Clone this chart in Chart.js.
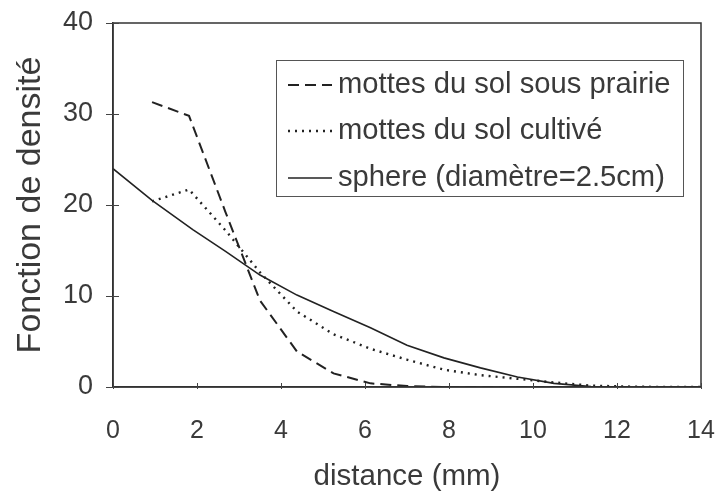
<!DOCTYPE html>
<html>
<head>
<meta charset="utf-8">
<script src="https://cdn.jsdelivr.net/npm/chart.js@4/dist/chart.umd.min.js"></script>
<style>
  html, body { margin: 0; padding: 0; background: #fff; }
  #wrap { width: 715px; height: 495px; }
</style>
</head>
<body>
<div id="wrap"><canvas id="c" width="715" height="495"></canvas></div>
<script>
// ---- data ----
const distMottes = [0.93, 1.81, 2.68, 3.5, 4.38, 5.25, 6.13, 7.0, 7.88, 8.75, 9.63, 10.5, 11.38, 12.25, 13.13, 14.0];
const prairie    = [31.3, 29.8, 19.2, 9.5, 3.9, 1.5, 0.4, 0.1, 0, 0, 0, 0, 0, 0, 0, 0];
const cultive    = [20.4, 21.7, 17.2, 12.6, 8.3, 5.8, 4.2, 3.0, 1.9, 1.3, 0.9, 0.5, 0.15, 0.05, 0, 0];
const distSphere = [0, 0.93, 1.9, 2.68, 3.5, 4.38, 5.25, 6.13, 7.0, 7.88, 8.75, 9.63, 10.5, 11.38, 12.25];
const sphere     = [24.0, 20.5, 17.3, 14.9, 12.3, 10.1, 8.3, 6.5, 4.6, 3.2, 2.1, 1.1, 0.4, 0.05, 0];
const xTicks = [0, 2, 4, 6, 8, 10, 12, 14];
const yTicks = [0, 10, 20, 30, 40];
const seriesLabels = ['mottes du sol sous prairie', 'mottes du sol cultivé', 'sphere (diamètre=2.5cm)'];
const xTitle = 'distance (mm)';
const yTitle = 'Fonction de densité';

const FONT = '"Liberation Sans", Arial, sans-serif';
const TXT = '#3a3a3a';

function pts(xs, ys) { return xs.map((x, i) => ({ x: x, y: ys[i] })); }

const frame = {
  id: 'frame',
  afterDatasetsDraw(chart) {
    const { ctx, chartArea: a, scales } = chart;
    ctx.save();
    ctx.strokeStyle = '#333';
    ctx.lineWidth = 1.5;
    ctx.strokeRect(a.left, a.top, a.right - a.left, a.bottom - a.top);
    // crossing tick marks
    ctx.lineWidth = 1;
    ctx.strokeStyle = '#444';
    yTicks.forEach(v => {
      const y = Math.round(scales.y.getPixelForValue(v)) + 0.5;
      ctx.beginPath(); ctx.moveTo(a.left - 7, y); ctx.lineTo(a.left + 6, y); ctx.stroke();
    });
    xTicks.forEach(v => {
      const x = Math.round(scales.x.getPixelForValue(v)) + 0.5;
      ctx.beginPath(); ctx.moveTo(x, a.bottom + 2); ctx.lineTo(x, a.bottom - 4); ctx.stroke();
    });
    // legend box
    const bx = 276, by = 60, bw = 407, bh = 136;
    ctx.fillStyle = '#fff';
    ctx.fillRect(bx, by, bw, bh);
    ctx.lineWidth = 1;
    ctx.strokeStyle = '#555';
    ctx.strokeRect(bx + 0.5, by + 0.5, bw, bh);
    const rows = [85, 131, 178];
    chart.data.datasets.forEach((ds, i) => {
      const y = rows[i];
      ctx.beginPath();
      ctx.setLineDash(ds.borderDash || []);
      ctx.lineWidth = ds.borderWidth;
      ctx.strokeStyle = ds.borderColor;
      ctx.moveTo(288, y);
      ctx.lineTo(332, y);
      ctx.stroke();
      ctx.setLineDash([]);
      ctx.fillStyle = TXT;
      ctx.font = '29.2px ' + FONT;
      ctx.textBaseline = 'middle';
      ctx.textAlign = 'left';
      ctx.fillText(ds.label, 338, y);
    });
    ctx.restore();
  }
};

new Chart(document.getElementById('c'), {
  type: 'line',
  data: {
    datasets: [
      { label: seriesLabels[0], data: pts(distMottes, prairie), borderColor: '#222', borderWidth: 2, borderDash: [11, 6], pointRadius: 0, fill: false, tension: 0 },
      { label: seriesLabels[1], data: pts(distMottes, cultive), borderColor: '#222', borderWidth: 2.4, borderDash: [2, 5], pointRadius: 0, fill: false, tension: 0 },
      { label: seriesLabels[2], data: pts(distSphere, sphere), borderColor: '#222', borderWidth: 1.6, pointRadius: 0, fill: false, tension: 0 }
    ]
  },
  options: {
    responsive: false,
    animation: false,
    layout: { padding: { top: 23, right: 14, left: 0, bottom: 0 } },
    plugins: { legend: { display: false }, tooltip: { enabled: false } },
    scales: {
      x: {
        type: 'linear', min: 0, max: 14,
        afterBuildTicks: s => { s.ticks = xTicks.map(v => ({ value: v })); },
        afterFit: s => { s.height = 108; s.paddingLeft = 0; s.paddingRight = 0; },
        grid: { display: false, drawTicks: false },
        border: { display: true, color: '#333', width: 1.5 },
        ticks: { color: TXT, font: { family: FONT, size: 25 }, padding: 29, maxRotation: 0 },
        title: { display: true, text: xTitle, color: TXT, font: { family: FONT, size: 29.5 }, padding: { top: 4, bottom: 0 } }
      },
      y: {
        type: 'linear', min: 0, max: 40,
        afterBuildTicks: s => { s.ticks = yTicks.map(v => ({ value: v })); },
        afterFit: s => { s.width = 113; s.paddingTop = 0; s.paddingBottom = 0; },
        grid: { display: false, drawTicks: false },
        border: { display: true, color: '#333', width: 1.5 },
        ticks: { color: TXT, font: { family: FONT, size: 27 }, padding: 20 },
        title: { display: true, text: yTitle, color: TXT, font: { family: FONT, size: 34 }, padding: { top: 10, bottom: 0 } }
      }
    }
  },
  plugins: [frame]
});
</script>
</body>
</html>
